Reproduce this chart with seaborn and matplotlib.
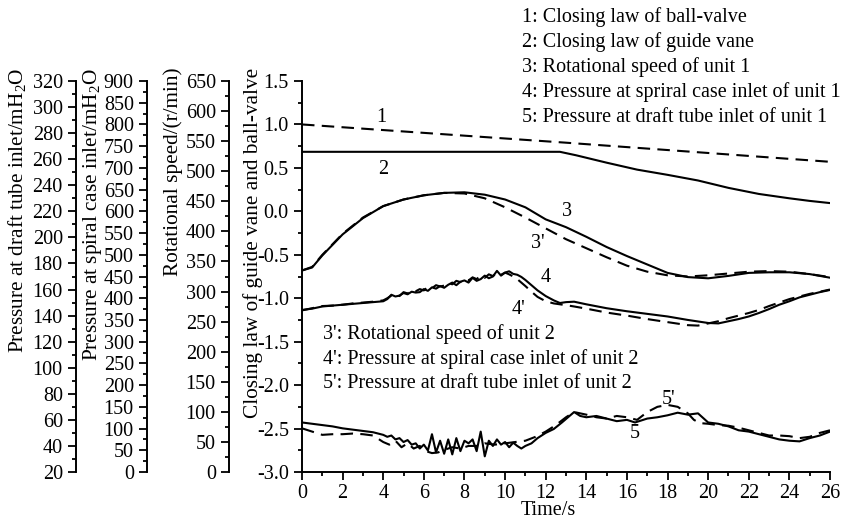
import numpy as np
import pandas as pd
import matplotlib
matplotlib.use("Agg")
import matplotlib.pyplot as plt
import seaborn as sns
from matplotlib.ticker import MultipleLocator, FormatStrFormatter

# ---------------- data ----------------
t_valve = [0, 13, 26]
valve_law = [1.0, 0.79, 0.57]

t_vane = [0, 12.7, 13.5, 15, 16.5, 18, 19.5, 21, 22.5, 24, 25, 26]
vane_law = [0.685, 0.685, 0.645, 0.56, 0.48, 0.42, 0.355, 0.27, 0.2, 0.15, 0.12, 0.095]

t_speed = [0, 0.5, 1, 2, 3, 4, 5, 6, 7, 8, 9, 10, 11, 12, 13, 14, 15, 16, 17, 18,
           19, 20, 21, 22, 23, 24, 25, 26]
speed_u1 = [335, 340, 360, 395, 422, 442, 453, 460, 464, 465, 461, 453, 440, 420, 407,
            391, 374, 359, 345, 331, 324, 322, 326, 331, 332, 332, 329, 323]
speed_u2 = [335, 341, 361, 396, 423, 442, 453, 460, 464, 463, 455, 440, 423, 405, 387,
            372, 357, 343, 333, 327, 325, 327, 330, 333, 334, 333, 329, 324]

t_spiral1 = [0, 0.5, 1, 1.5, 2, 2.5, 3, 3.5, 4, 4.2, 4.4, 4.6, 4.8, 5.0, 5.2, 5.4, 5.6,
             5.8, 6.0, 6.2, 6.4, 6.6, 6.8, 7.0, 7.2, 7.4, 7.6, 7.8, 8.0, 8.2, 8.4, 8.6,
             8.8, 9.0, 9.2, 9.4, 9.6, 9.8, 10.0, 10.2, 10.4, 10.6, 10.8, 11.0, 11.3,
             11.6, 12.0, 12.4, 12.7, 13.0, 13.4, 14, 15, 16, 17, 18, 19, 20, 20.5, 21,
             21.5, 22, 22.5, 23, 23.5, 24, 24.5, 25, 25.5, 26]
spiral_u1 = [373, 376, 381, 383, 385, 387, 389, 391, 393, 398, 408, 404, 406, 412, 409,
             415, 413, 414, 421, 417, 425, 422, 428, 424, 431, 436, 430, 438, 441, 436,
             447, 440, 444, 452, 446, 450, 463, 452, 459, 462, 456, 454, 449, 442, 430,
             418, 405, 395, 389, 391, 392, 386, 377, 370, 364, 358, 350, 343, 342, 347,
             352, 358, 366, 375, 385, 393, 402, 408, 414, 419]

t_spiral2 = [0, 0.5, 1, 1.5, 2, 2.5, 3, 3.5, 4, 4.2, 4.4, 4.6, 4.8, 5.0, 5.2, 5.4, 5.6,
             5.8, 6.0, 6.2, 6.4, 6.6, 6.8, 7.0, 7.2, 7.4, 7.6, 7.8, 8.0, 8.2, 8.4, 8.6,
             8.8, 9.0, 9.2, 9.4, 9.6, 9.8, 10.0, 10.2, 10.4, 10.6, 10.8, 11.0, 11.3,
             11.6, 12.0, 12.4, 12.7, 13.0, 13.4, 14, 15, 16, 17, 18, 19, 19.5, 20, 20.5,
             21, 21.5, 22, 22.5, 23, 23.5, 24, 24.5, 25, 25.5, 26]
spiral_u2 = [372, 377, 382, 383, 385, 388, 390, 392, 395, 400, 406, 409, 405, 414, 411,
             418, 416, 421, 418, 426, 423, 430, 427, 429, 435, 432, 440, 437, 443, 441,
             448, 444, 452, 447, 455, 451, 458, 454, 459, 455, 450, 444, 436, 428, 415,
             403, 393, 388, 386, 384, 381, 376, 367, 360, 352, 345, 338, 337, 342, 347,
             354, 360, 366, 373, 382, 390, 398, 404, 410, 415, 420]

t_draft1 = [0, 0.5, 1, 1.5, 2, 2.5, 3, 3.5, 4, 4.2, 4.4, 4.6, 4.8, 5.0, 5.2, 5.4, 5.6,
            5.8, 6.0, 6.2, 6.4, 6.6, 6.8, 7.0, 7.2, 7.4, 7.6, 7.8, 8.0, 8.2, 8.4, 8.6,
            8.8, 9.0, 9.2, 9.4, 9.6, 9.8, 10.0, 10.2, 10.4, 10.6, 10.8, 11.0, 11.3,
            11.6, 12.0, 12.4, 12.8, 13.1, 13.4, 13.7, 14, 14.5, 15, 15.5, 16, 16.4, 17,
            17.5, 18, 18.5, 19, 19.5, 20, 20.5, 21, 21.5, 22, 22.5, 23, 23.5, 24, 24.5,
            25, 25.5, 26]
draft_u1 = [58, 57, 56, 55, 53.5, 52.5, 51.5, 50.5, 48.5, 47, 48, 45, 46, 43, 44.5, 41,
            42, 38, 41, 36.5, 49, 35, 44, 34, 45, 33.5, 46, 36, 44, 42, 45, 36, 51, 32,
            44, 40, 45, 41, 43, 39, 42.5, 40, 38, 40, 42, 46, 50, 53, 58, 62, 66, 63, 62,
            63, 61, 59, 60, 58, 61, 62, 63.5, 65.5, 64, 65, 58, 57, 55, 52, 51, 49, 47,
            45, 44, 43.5, 46, 48, 51]

t_draft2 = [0, 0.5, 1, 1.5, 2, 2.5, 3, 3.5, 4, 4.3, 4.6, 4.9, 5.2, 5.5, 5.8, 6.1, 6.4,
            6.7, 7.0, 7.4, 7.8, 8.2, 8.6, 9.0, 9.5, 10, 10.5, 11, 11.5, 12, 12.5, 13,
            13.4, 14, 14.5, 15, 15.5, 16, 16.5, 17, 17.5, 18, 18.5, 19, 19.3, 19.6, 20,
            20.5, 21, 21.5, 22, 22.5, 23, 23.5, 24, 24.5, 25, 25.5, 26]
draft_u2 = [53.5, 51, 48.5, 49, 49, 49.5, 49, 48, 43, 41, 44, 39, 42, 38, 40, 36, 34.5,
            35, 37, 39, 38, 40, 40, 42, 41, 42, 43, 44, 47, 51, 56, 62, 66, 64, 62, 61,
            63, 62, 60, 66, 70, 71.5, 70, 65, 60, 57.5, 57, 56, 55.5, 54, 52, 50, 48, 48,
            47.5, 46, 47, 50, 52]

x_ticks = list(range(0, 27, 2))
legend_top = ["1: Closing law of ball-valve",
              "2: Closing law of guide vane",
              "3: Rotational speed of unit 1",
              "4: Pressure at spriral case inlet of unit 1",
              "5: Pressure at draft tube inlet of unit 1"]
legend_bottom = ["3': Rotational speed of unit 2",
                 "4': Pressure at spiral case inlet of unit 2",
                 "5': Pressure at draft tube inlet of unit 2"]

# ---------------- style ----------------
sns.set_style("ticks", rc={"axes.edgecolor": "black", "xtick.color": "black",
                           "ytick.color": "black", "text.color": "black",
                           "axes.labelcolor": "black"})
plt.rcParams["font.family"] = ["Liberation Serif", "DejaVu Serif"]
plt.rcParams["mathtext.fontset"] = "custom"
plt.rcParams["mathtext.rm"] = "Liberation Serif"
plt.rcParams["mathtext.it"] = "Liberation Serif:italic"
plt.rcParams["axes.unicode_minus"] = False

FS = 14.5
FS_LAB = 15.3
LW = 1.5
DASH = (0, (6, 3.5))

fig = plt.figure(figsize=(8.42, 5.19), dpi=100)
W_PX, H_PX = 842, 519
x0, x1, y0, y1 = 302, 830, 81, 472
ax = fig.add_axes([x0 / W_PX, 1 - y1 / H_PX, (x1 - x0) / W_PX, (y1 - y0) / H_PX])
ax.patch.set_alpha(0)


def px_to_axes(px, py):
    return (px - x0) / (x1 - x0), (y1 - py) / (y1 - y0)


ax_speed = ax.twinx()
ax_spiral = ax.twinx()
ax_draft = ax.twinx()


def style_axis(a, lo, hi, major, minor, fmt):
    a.set_ylim(lo, hi)
    a.yaxis.set_major_locator(MultipleLocator(major))
    a.yaxis.set_minor_locator(MultipleLocator(minor))
    a.yaxis.set_major_formatter(FormatStrFormatter(fmt))
    a.tick_params(axis="y", which="major", direction="out", length=5.5, width=1.3,
                  labelsize=FS, pad=4, left=True, right=False, labelleft=True,
                  labelright=False)
    a.tick_params(axis="y", which="minor", direction="out", length=3, width=1.3,
                  left=True, right=False)


for a, pos in [(ax_speed, -0.1383), (ax_spiral, -0.2936), (ax_draft, -0.428)]:
    a.spines["left"].set_visible(True)
    a.spines["left"].set_position(("axes", pos))
    a.spines["left"].set_linewidth(1.4)
    for s in ["right", "top", "bottom"]:
        a.spines[s].set_visible(False)
    a.yaxis.set_ticks_position("left")
    a.yaxis.set_label_position("left")

for s in ["right", "top"]:
    ax.spines[s].set_visible(False)
for s in ["left", "bottom"]:
    ax.spines[s].set_linewidth(1.4)

style_axis(ax, -3.0, 1.5, 0.5, 0.25, "%.1f")
style_axis(ax_speed, 0, 650, 50, 25, "%d")
style_axis(ax_spiral, 0, 900, 50, 25, "%d")
style_axis(ax_draft, 20, 320, 20, 10, "%d")

ax.set_xlim(0, 26)
ax.set_xticks(x_ticks)
ax.xaxis.set_minor_locator(MultipleLocator(1))
ax.tick_params(axis="x", which="major", direction="out", length=5.5, width=1.3,
               labelsize=FS, pad=3)
ax.tick_params(axis="x", which="minor", direction="out", length=3, width=1.3)

# ---------------- curves ----------------
sns.lineplot(x=t_valve, y=valve_law, ax=ax, color="black", lw=LW, linestyle=DASH)
sns.lineplot(x=t_vane, y=vane_law, ax=ax, color="black", lw=LW)
sns.lineplot(x=t_speed, y=speed_u1, ax=ax_speed, color="black", lw=LW)
sns.lineplot(x=t_speed, y=speed_u2, ax=ax_speed, color="black", lw=LW, linestyle=DASH)
sns.lineplot(x=t_spiral1, y=spiral_u1, ax=ax_spiral, color="black", lw=LW)
sns.lineplot(x=t_spiral2, y=spiral_u2, ax=ax_spiral, color="black", lw=LW, linestyle=DASH)
sns.lineplot(x=t_draft1, y=draft_u1, ax=ax_draft, color="black", lw=LW)
sns.lineplot(x=t_draft2, y=draft_u2, ax=ax_draft, color="black", lw=LW, linestyle=DASH)

# ---------------- labels ----------------
ylabels = [
    (ax, "Closing law of guide vane and ball-valve", 253),
    (ax_speed, "Rotational speed/(r/min)", 173),
    (ax_spiral, "Pressure at spiral case inlet/mH$_2$O", 93),
    (ax_draft, "Pressure at draft tube inlet/mH$_2$O", 17),
]
for a, txt, cx in ylabels:
    a.set_ylabel(txt, fontsize=FS_LAB)
    fx, fy = px_to_axes(cx, 68)
    a.yaxis.set_label_coords(fx, fy)
    lab = a.yaxis.label
    lab.set_rotation_mode("default")
    lab.set_ha("center")
    lab.set_va("top")

ax.set_xlabel("Time/s", fontsize=FS)
lx, ly = px_to_axes(548, 501)
ax.xaxis.set_label_coords(lx, ly)
ax.xaxis.label.set_va("top")

# curve number tags (pixel positions in the figure)
tags = [("1", 381, 117), ("2", 383, 170), ("3", 567, 212), ("3'", 538, 243),
        ("4", 546, 277), ("4'", 519, 310), ("5", 635, 433), ("5'", 669, 400)]
for txt, px, py in tags:
    fx, fy = px_to_axes(px, py)
    ax.text(fx, fy, txt, transform=ax.transAxes, fontsize=FS, ha="center", va="center")

for i, txt in enumerate(legend_top):
    fx, fy = px_to_axes(522, 17 + 25 * i)
    ax.text(fx, fy, txt, transform=ax.transAxes, fontsize=FS, ha="left", va="center",
            clip_on=False)
for i, txt in enumerate(legend_bottom):
    fx, fy = px_to_axes(323, 334 + 25 * i)
    ax.text(fx, fy, txt, transform=ax.transAxes, fontsize=FS, ha="left", va="center")

fig.savefig("out.png", dpi=100)
